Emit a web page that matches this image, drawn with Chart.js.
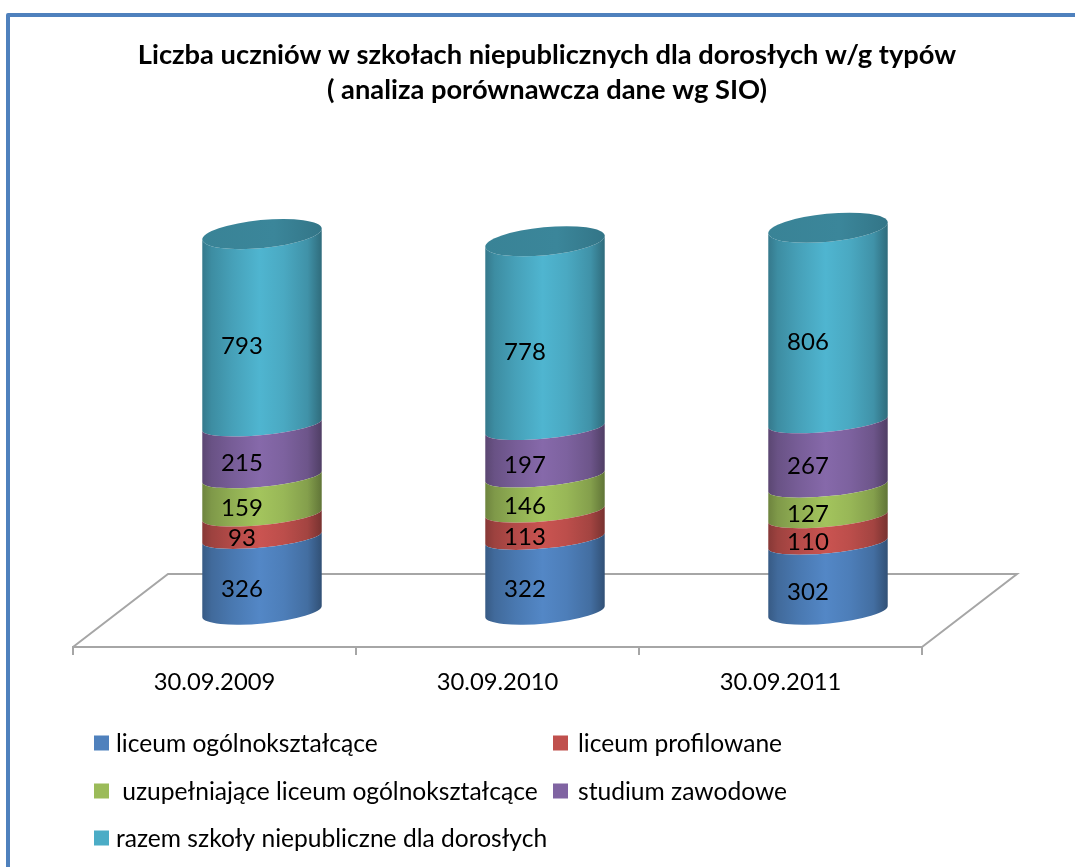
<!DOCTYPE html>
<html lang="pl">
<head>
<meta charset="utf-8">
<title>Liczba uczniów</title>
<style>
html,body{margin:0;padding:0;background:#fff;overflow:hidden;width:1075px;height:867px}
#frame{position:absolute;left:6px;top:13px;width:1200px;height:1000px;border:4.5px solid #4f81bd;border-radius:2px;box-sizing:border-box}
canvas{position:absolute;left:0;top:0}
</style>
<script src="https://cdn.jsdelivr.net/npm/chart.js@4"></script>
</head>
<body>
<div id="frame"></div>
<canvas id="c" width="1075" height="867"></canvas>
<script>
const titleLines = ['Liczba uczniów w szkołach niepublicznych dla dorosłych w/g typów', '( analiza porównawcza dane wg SIO)'];
const categories = ['30.09.2009', '30.09.2010', '30.09.2011'];
const liceumOgolnoksztalcace = [326, 322, 302];
const liceumProfilowane = [93, 113, 110];
const uzupelniajaceLiceum = [159, 146, 127];
const studiumZawodowe = [215, 197, 267];
const razemSzkoly = [793, 778, 806];
const seriesLabels = ['liceum ogólnokształcące', 'liceum profilowane', ' uzupełniające liceum ogólnokształcące', 'studium zawodowe', 'razem szkoły niepubliczne dla dorosłych'];
const seriesColors = ['#4f81bd', '#c0504d', '#9bbb59', '#8064a2', '#4bacc6'];

const FONT = 'Lato, "Open Sans", sans-serif';
const DEPTH_X = 95, DEPTH_Y = 73, TILT = -5.5 * Math.PI / 180;
const RY_MID = 10, RY_TOP = 14, RY_BASE = 12, BASE_LIFT = 4.5;

function shade(hex, f) {
  const n = parseInt(hex.slice(1), 16);
  const c = [n >> 16, (n >> 8) & 255, n & 255].map(v => Math.min(255, Math.round(v * f)));
  return `rgb(${c[0]},${c[1]},${c[2]})`;
}
function sideGradient(ctx, l, r, col) {
  const g = ctx.createLinearGradient(l, 0, r, 0);
  [[0, .7], [.08, .82], [.25, .93], [.48, 1.05], [.68, .98], [.88, .85], [1, .62]]
    .forEach(s => g.addColorStop(s[0], shade(col, s[1])));
  return g;
}

const cylinders = {
  id: 'cylinders',
  afterLayout(chart) {
    const a = chart.chartArea;
    chart.titleBlock.left = a.left + 27;
    chart.titleBlock.right = a.right + 72;
  },
  beforeDatasetsDraw(chart) {
    const { ctx, chartArea: a } = chart;
    ctx.save();
    ctx.strokeStyle = '#a6a6a6';
    ctx.lineWidth = 2;
    ctx.beginPath();
    ctx.moveTo(a.left, a.bottom);
    ctx.lineTo(a.left + DEPTH_X, a.bottom - DEPTH_Y);
    ctx.lineTo(a.right + DEPTH_X, a.bottom - DEPTH_Y);
    ctx.lineTo(a.right, a.bottom);
    ctx.stroke();
    ctx.restore();
  },
  beforeDatasetDraw(chart, args) {
    const { ctx } = chart;
    const last = chart.data.datasets.length - 1;
    const col = seriesColors[args.index];
    args.meta.data.forEach(bar => {
      const cx = bar.x + DEPTH_X / 2, rx = bar.width / 2;
      const first = args.index === 0, top = args.index === last;
      const yb = first ? bar.base - BASE_LIFT : bar.base;
      const rb = first ? RY_BASE : RY_MID;
      const rt = top ? RY_TOP : RY_MID;
      ctx.save();
      ctx.beginPath();
      ctx.ellipse(cx, yb, rx, rb, TILT, Math.PI, 0, true);
      ctx.ellipse(cx, bar.y, rx, rt, TILT, 0, Math.PI, false);
      ctx.closePath();
      ctx.fillStyle = sideGradient(ctx, cx - rx, cx + rx, col);
      ctx.fill();
      if (top) {
        ctx.beginPath();
        ctx.ellipse(cx, bar.y, rx, rt, TILT, 0, Math.PI * 2);
        const g = ctx.createLinearGradient(cx - rx, 0, cx + rx, 0);
        g.addColorStop(0, shade(col, .76));
        g.addColorStop(.6, shade(col, .78));
        g.addColorStop(1, shade(col, .68));
        ctx.fillStyle = g;
        ctx.fill();
      }
      ctx.restore();
    });
    return false;
  },
  afterDatasetsDraw(chart) {
    const { ctx } = chart;
    const last = chart.data.datasets.length - 1;
    ctx.save();
    ctx.fillStyle = '#000';
    ctx.font = '24px ' + FONT;
    ctx.textAlign = 'center';
    ctx.textBaseline = 'middle';
    chart.data.datasets.forEach((ds, i) => {
      chart.getDatasetMeta(i).data.forEach((bar, j) => {
        const dy = i === last ? 17 : 12.5;
        ctx.fillText(String(ds.data[j]), bar.x + DEPTH_X / 2 - 20, (bar.y + bar.base) / 2 + dy);
      });
    });
    ctx.restore();
  },
  afterDraw(chart) {
    const { ctx } = chart;
    const slots = [[94, 743, 22], [553, 743, 25], [94, 791, 22], [553, 791, 25], [94, 838, 22]];
    ctx.save();
    ctx.font = '24.6px ' + FONT;
    ctx.textBaseline = 'middle';
    ctx.textAlign = 'left';
    seriesLabels.forEach((t, i) => {
      const [x, y, gap] = slots[i];
      ctx.fillStyle = seriesColors[i];
      ctx.fillRect(x, y - 7.5, 15, 15);
      ctx.fillStyle = '#000';
      ctx.fillText(t, x + gap, y + 1);
    });
    ctx.restore();
  }
};

new Chart(document.getElementById('c'), {
  type: 'bar',
  plugins: [cylinders],
  data: {
    labels: categories,
    datasets: [liceumOgolnoksztalcace, liceumProfilowane, uzupelniajaceLiceum, studiumZawodowe, razemSzkoly]
      .map((d, i) => ({ label: seriesLabels[i], data: d, backgroundColor: seriesColors[i] }))
  },
  options: {
    responsive: false,
    animation: false,
    devicePixelRatio: 1,
    layout: { padding: { left: 73, right: 153, top: 0, bottom: 174 } },
    plugins: {
      legend: { display: false },
      tooltip: { enabled: false },
      title: {
        display: true,
        text: titleLines,
        color: '#000',
        font: { family: FONT, size: 27.3, weight: 'bold', lineHeight: 1.28 },
        padding: { top: 38, bottom: 52 }
      }
    },
    datasets: { bar: { categoryPercentage: 1, barPercentage: 0.424 } },
    scales: {
      x: {
        stacked: true,
        grid: { drawOnChartArea: false, drawTicks: true, tickLength: 8, color: '#a6a6a6', lineWidth: 2 },
        border: { color: '#a6a6a6', width: 2 },
        ticks: { color: '#000', font: { family: FONT, size: 23.8 }, padding: 13, maxRotation: 0 },
        afterFit(s) { s.height = 46; }
      },
      y: { stacked: true, display: false, min: -129, max: 1894 }
    }
  }
});
</script>
</body>
</html>
